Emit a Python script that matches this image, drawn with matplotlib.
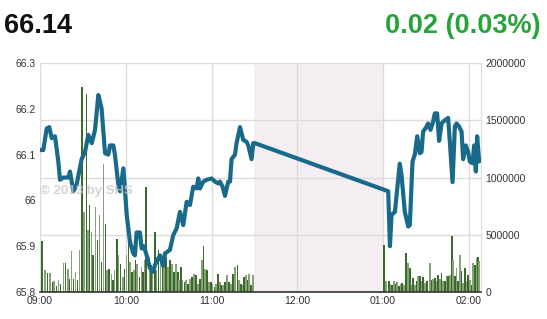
import matplotlib
matplotlib.use("Agg")
import matplotlib.pyplot as plt

# ---- data (minutes after 09:00) ----
price_min = [0, 2.3, 4.7, 6.5, 8.2, 10.5, 12.8, 14.0, 16.3, 19.8, 21.0, 23.3, 25.6, 29.1, 31.5,
             33.8, 36.2, 38.5, 40.8, 42.0, 43.1, 45.5, 47.8, 49.0, 51.3, 52.4, 54.8, 56.0, 58.3,
             59.4, 60.6, 62.9, 65.3, 66.4, 67.6, 69.9, 71.1, 72.7, 74.6, 76.9, 79.2, 80.4, 82.7,
             83.9, 86.2, 87.4, 90.9, 93.2, 95.6, 97.9, 100.2, 102.6, 104.9, 107.2, 109.6, 110.7,
             111.9, 114.2, 116.6, 120.1, 122.4, 124.7, 125.9, 127.7, 129.4, 131.7, 132.9, 134.0,
             136.4, 137.5, 139.9, 142.2, 144.5, 145.7, 148.0, 149.2, 150.3,
             243.6, 244.8, 245.9, 248.3, 249.9, 251.7, 252.9, 255.2, 257.6, 258.7, 260.6, 262.2,
             263.9, 265.7, 266.9, 268.0, 270.4, 271.5, 273.2, 275.0, 276.2, 277.8, 279.2, 280.9,
             283.2, 285.5, 286.7, 288.6, 290.2, 291.4, 293.2, 294.9, 296.0, 297.9, 299.5, 300.7,
             302.6, 303.7, 304.9, 305.8, 307.2]
price = [66.11, 66.11, 66.157, 66.16, 66.136, 66.14, 66.085, 66.045, 66.05, 66.05, 66.063, 66.02,
         66.034, 66.09, 66.106, 66.143, 66.125, 66.154, 66.23, 66.215, 66.20, 66.103, 66.10, 66.12,
         66.12, 66.10, 66.034, 66.02, 66.07, 66.026, 65.97, 65.91, 65.884, 65.88, 65.93, 65.93,
         65.895, 65.90, 65.88, 65.852, 65.844, 65.859, 65.873, 65.88, 65.857, 65.884, 65.892,
         65.924, 65.939, 65.975, 65.946, 65.997, 65.99, 66.03, 66.026, 66.048, 66.026, 66.041,
         66.045, 66.048, 66.041, 66.037, 66.041, 66.03, 66.01, 66.041, 66.041, 66.09, 66.10,
         66.125, 66.16, 66.132, 66.128, 66.12, 66.09, 66.125, 66.125,
         66.02, 65.90, 65.968, 65.975, 66.026, 66.08, 66.055, 65.975, 65.943, 65.946, 66.085,
         66.10, 66.14, 66.103, 66.106, 66.15, 66.161, 66.168, 66.154, 66.172, 66.19, 66.19,
         66.13, 66.168, 66.175, 66.18, 66.128, 66.04, 66.161, 66.168, 66.161, 66.15, 66.09,
         66.12, 66.106, 66.085, 66.081, 66.12, 66.063, 66.14, 66.085]

vol_min = [1.4, 3.3, 5.1, 7.0, 8.9, 9.8, 11.4, 13.0, 14.4, 16.3, 17.7, 19.6, 20.7, 21.9, 23.5,
           24.7, 26.1, 27.7, 29.4, 30.8, 32.4, 33.6, 34.7, 35.9, 37.1, 38.7, 40.1, 41.7, 42.9,
           44.5, 45.7, 46.9, 48.3, 49.9, 51.0, 52.2, 53.8, 55.0, 56.4, 58.0, 59.2, 60.4, 62.0,
           62.9, 64.3, 65.7, 66.9, 68.0, 69.7, 70.9, 72.0, 73.2, 74.3, 76.5, 77.6, 78.8, 80.4,
           81.6, 83.0, 84.4, 85.8, 86.9, 88.1, 89.5, 90.9, 92.3, 93.7, 95.1, 96.5, 97.4, 98.6,
           99.8, 101.2, 102.1, 103.5, 104.9, 106.3, 107.7, 109.1, 110.5, 111.9, 113.3, 114.5,
           115.6, 117.0, 118.4, 119.6, 120.8, 122.2, 123.1, 124.5, 125.9, 126.8, 128.2, 129.6,
           131.0, 132.4, 133.8, 135.2, 136.6, 138.2, 139.4, 140.6, 141.7, 142.9, 144.1, 145.3,
           146.4, 147.8, 149.2,
           240.8, 242.0, 244.3, 245.2, 246.4, 247.8, 249.0, 249.9, 251.0, 252.2, 253.4, 254.5,
           256.0, 257.6, 258.7, 259.9, 261.1, 262.2, 263.4, 264.6, 265.7, 266.9, 268.1, 269.5,
           270.9, 272.7, 273.9, 275.1, 276.2, 277.4, 278.6, 279.7, 280.9, 282.1, 283.2, 284.4,
           285.6, 286.7, 288.1, 289.1, 290.2, 291.4, 292.5, 293.7, 294.9, 296.0, 297.2, 298.4,
           299.5, 300.7, 301.9, 303.0, 304.2, 305.4, 306.5, 307.2]
volume = [442e3, 195e3, 166e3, 166e3, 87e3, 96e3, 50e3, 102e3, 67e3, 253e3, 253e3, 204e3, 116e3,
          358e3, 116e3, 175e3, 102e3, 370e3, 1790e3, 700e3, 1732e3, 539e3, 757e3, 524e3, 320e3,
          742e3, 455e3, 670e3, 262e3, 1121e3, 597e3, 189e3, 204e3, 160e3, 102e3, 189e3, 466e3,
          320e3, 247e3, 131e3, 204e3, 320e3, 524e3, 262e3, 175e3, 189e3, 277e3, 247e3, 131e3,
          218e3, 175e3, 277e3, 917e3, 306e3, 233e3, 218e3, 524e3, 189e3, 364e3, 306e3, 277e3,
          218e3, 306e3, 218e3, 277e3, 247e3, 175e3, 247e3, 175e3, 102e3, 218e3, 102e3, 87e3,
          102e3, 73e3, 116e3, 131e3, 160e3, 146e3, 73e3, 116e3, 277e3, 399e3, 204e3, 189e3,
          87e3, 87e3, 73e3, 44e3, 73e3, 160e3, 87e3, 58e3, 58e3, 87e3, 146e3, 87e3, 73e3, 160e3,
          218e3, 233e3, 102e3, 73e3, 58e3, 131e3, 146e3, 102e3, 160e3, 58e3, 146e3,
          413e3, 93e3, 99e3, 70e3, 64e3, 93e3, 70e3, 87e3, 49e3, 70e3, 79e3, 64e3, 341e3, 253e3,
          210e3, 64e3, 122e3, 58e3, 93e3, 137e3, 137e3, 93e3, 128e3, 79e3, 93e3, 253e3, 108e3,
          116e3, 122e3, 93e3, 146e3, 116e3, 166e3, 93e3, 93e3, 137e3, 137e3, 151e3, 486e3, 282e3,
          137e3, 210e3, 93e3, 326e3, 180e3, 79e3, 210e3, 93e3, 151e3, 108e3, 64e3, 253e3, 239e3,
          297e3, 303e3, 268e3]

hour_ticks = [0, 60, 120, 180, 240, 300]
hour_labels = ["09:00", "10:00", "11:00", "12:00", "01:00", "02:00"]
price_ticks = [65.8, 65.9, 66.0, 66.1, 66.2, 66.3]
price_labels = ["65.8", "65.9", "66", "66.1", "66.2", "66.3"]
vol_ticks = [0, 500000, 1000000, 1500000, 2000000]
lunch = (150, 240)
last_price = "66.14"
change = "0.02 (0.03%)"

plt.rcParams['font.family'] = ['Liberation Sans', 'DejaVu Sans']

W, H = 547, 319
fig = plt.figure(figsize=(W / 100, H / 100), dpi=100)
L, R, T, B = 40, 481, 63, 292
ax = fig.add_axes([L / W, 1 - B / H, (R - L) / W, (B - T) / H])

# shaded lunch break
ax.axvspan(lunch[0], lunch[1], color='#f4eef3', zorder=0, lw=0)

# volume bars
cols = ['#3b6a2c' if i % 2 == 0 else '#86a378' for i in range(len(volume))]
ax.bar(vol_min, volume, width=1.1, color=cols, zorder=2, linewidth=0)
ax.set_ylim(0, 2000000)
ax.set_xlim(0, 308.5)
ax.set_xticks(hour_ticks)
ax.set_xticklabels(hour_labels)
ax.grid(True, color='#dcdcdc', lw=1, zorder=1)
ax.set_axisbelow(True)
for s in ['top', 'left']:
    ax.spines[s].set_visible(False)
ax.spines['right'].set_color('#dcdcdc')
ax.spines['bottom'].set_color('#333333')
ax.spines['bottom'].set_linewidth(1.2)

# price line
ax2 = ax.twinx()
ax2.plot(price_min, price, color='#19698a', lw=3.0, zorder=3,
         solid_joinstyle='round', solid_capstyle='round')
ax2.set_ylim(65.8, 66.3)
ax2.set_yticks(price_ticks)
ax2.set_yticklabels(price_labels)
ax2.yaxis.tick_left()
for s in ax2.spines.values():
    s.set_visible(False)
ax2.tick_params(axis='both', length=0, labelsize=7.5, colors='#333333', pad=3)

# volume axis on the right (after twinx, which resets sides)
ax.yaxis.tick_right()
ax.set_yticks(vol_ticks)
ax.set_yticklabels([str(v) for v in vol_ticks])
ax.tick_params(axis='both', length=0, labelsize=7.5, colors='#333333', pad=3)

# watermark
ax2.text(0.0, 0.44, "\u00a9 2013 by SHS", transform=ax2.transAxes, fontsize=9.5,
         fontweight='bold', color='#c8c8c8', alpha=0.8, ha='left', va='center', zorder=5)

# header
fig.text(4 / W, 1 - 33 / H, last_price, fontsize=19.5, fontweight='bold', color='#111111',
         ha='left', va='baseline')
fig.text(541 / W, 1 - 33 / H, change, fontsize=19.5, fontweight='bold', color='#27a33a',
         ha='right', va='baseline')

fig.savefig("out.png", dpi=100)
